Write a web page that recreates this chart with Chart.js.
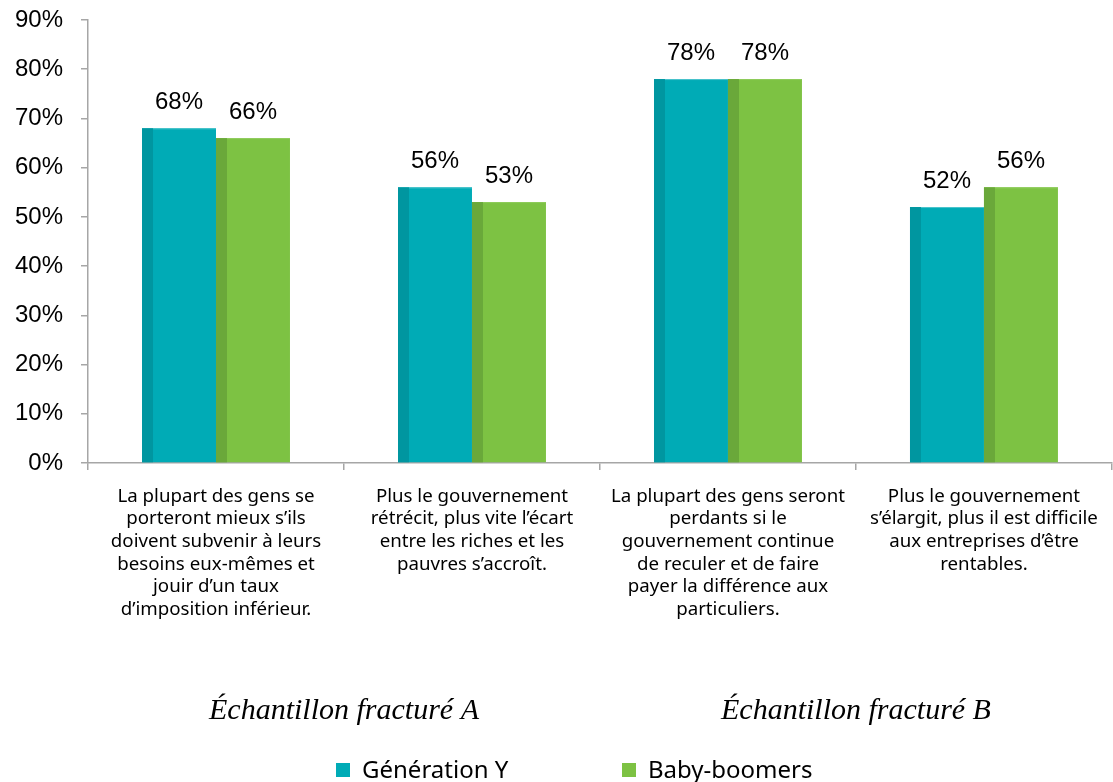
<!DOCTYPE html>
<html lang="fr">
<head>
<meta charset="utf-8">
<script src="https://cdn.jsdelivr.net/npm/chart.js@4.4.1/dist/chart.umd.min.js"></script>
<style>
  html, body { margin: 0; padding: 0; background: #ffffff; }
  #wrap { width: 1113px; height: 782px; position: relative; }
</style>
</head>
<body>
<div id="wrap"><canvas id="chart" width="1113" height="782"></canvas></div>
<script>
// Statements (multi-line category labels)
const categories = [
  ["La plupart des gens se", "porteront mieux s\u2019ils", "doivent subvenir \u00e0 leurs", "besoins eux-m\u00eames et", "jouir d\u2019un taux", "d\u2019imposition inf\u00e9rieur."],
  ["Plus le gouvernement", "r\u00e9tr\u00e9cit, plus vite l\u2019\u00e9cart", "entre les riches et les", "pauvres s\u2019accro\u00eet."],
  ["La plupart des gens seront", "perdants si le", "gouvernement continue", "de reculer et de faire", "payer la diff\u00e9rence aux", "particuliers."],
  ["Plus le gouvernement", "s\u2019\u00e9largit, plus il est difficile", "aux entreprises d\u2019\u00eatre", "rentables."]
];
const generationY = [68, 56, 78, 52];
const babyBoomers = [66, 53, 78, 56];
const seriesNames = ["G\u00e9n\u00e9ration Y", "Baby-boomers"];
const yTicks = [0, 10, 20, 30, 40, 50, 60, 70, 80, 90];
const sampleGroups = [
  { label: "\u00c9chantillon fractur\u00e9 A", from: 0, to: 1 },
  { label: "\u00c9chantillon fractur\u00e9 B", from: 2, to: 3 }
];

const fillColors = ["#00abb6", "#7dc243"];
const sideColors = ["#0096a0", "#6aa83a"];
const topColors  = ["#4cc4cc", "#8fcc5c"];

// Darker left strip and light top edge on each bar, plus value labels
const barDecor = {
  id: "barDecor",
  afterDatasetsDraw(chart) {
    const ctx = chart.ctx;
    chart.data.datasets.forEach((ds, di) => {
      const meta = chart.getDatasetMeta(di);
      meta.data.forEach((bar, i) => {
        const left = bar.x - bar.width / 2;
        const h = bar.base - bar.y;
        ctx.save();
        ctx.fillStyle = topColors[di];
        ctx.fillRect(left, bar.y, bar.width, 1);
        ctx.fillStyle = sideColors[di];
        ctx.fillRect(left, bar.y, 11, h);
        ctx.fillStyle = "#000000";
        ctx.font = "24px 'Liberation Sans', Arial, sans-serif";
        ctx.textAlign = "center";
        ctx.textBaseline = "alphabetic";
        ctx.fillText(ds.data[i] + "%", bar.x, bar.y - 19);
        ctx.restore();
      });
    });
  }
};

// Sample group captions and the legend under the axis
const footer = {
  id: "footer",
  afterDraw(chart) {
    const ctx = chart.ctx;
    const x = chart.scales.x;
    ctx.save();
    ctx.fillStyle = "#000000";
    ctx.font = "italic 30px 'Liberation Serif', 'Times New Roman', serif";
    ctx.textAlign = "center";
    ctx.textBaseline = "middle";
    sampleGroups.forEach(g => {
      const cx = (x.getPixelForValue(g.from) + x.getPixelForValue(g.to)) / 2;
      ctx.fillText(g.label, cx, 711);
    });
    const items = [{ x: 336 }, { x: 622 }];
    ctx.font = "24px 'Noto Sans', sans-serif";
    ctx.textAlign = "left";
    items.forEach((it, i) => {
      ctx.fillStyle = fillColors[i];
      ctx.fillRect(it.x, 763, 14, 14);
      ctx.fillStyle = "#000000";
      ctx.fillText(seriesNames[i], it.x + 26, 771);
    });
    ctx.restore();
  }
};

new Chart(document.getElementById("chart"), {
  type: "bar",
  data: {
    labels: categories,
    datasets: [
      { label: seriesNames[0], data: generationY, backgroundColor: fillColors[0], borderWidth: 0 },
      { label: seriesNames[1], data: babyBoomers, backgroundColor: fillColors[1], borderWidth: 0 }
    ]
  },
  options: {
    responsive: false,
    animation: false,
    devicePixelRatio: 1,
    layout: { padding: { top: 20, right: 1, bottom: 0, left: 0 } },
    datasets: { bar: { categoryPercentage: 0.578, barPercentage: 1.0 } },
    plugins: { legend: { display: false }, tooltip: { enabled: false } },
    scales: {
      x: {
        afterFit(scale) { scale.height = 319; },
        grid: { display: true, drawOnChartArea: false, drawTicks: true, tickLength: 7, color: "#a6a6a6", lineWidth: 1.5 },
        border: { display: true, color: "#a6a6a6", width: 1.5 },
        ticks: {
          color: "#000000",
          padding: 15,
          maxRotation: 0,
          autoSkip: false,
          font: { family: "'Noto Sans', sans-serif", size: 18.7, lineHeight: 1.21 }
        }
      },
      y: {
        min: 0,
        max: 90,
        afterFit(scale) { scale.width = 88; scale.paddingTop = 0; scale.paddingBottom = 0; },
        afterBuildTicks(scale) { scale.ticks = yTicks.map(v => ({ value: v })); },
        grid: { display: true, drawOnChartArea: false, drawTicks: true, tickLength: 7, color: "#a6a6a6", lineWidth: 1.5 },
        border: { display: true, color: "#a6a6a6", width: 1.5 },
        ticks: {
          color: "#000000",
          padding: 18,
          font: { family: "'Liberation Sans', Arial, sans-serif", size: 24 },
          callback: v => v + "%"
        }
      }
    }
  },
  plugins: [barDecor, footer]
});
</script>
</body>
</html>
